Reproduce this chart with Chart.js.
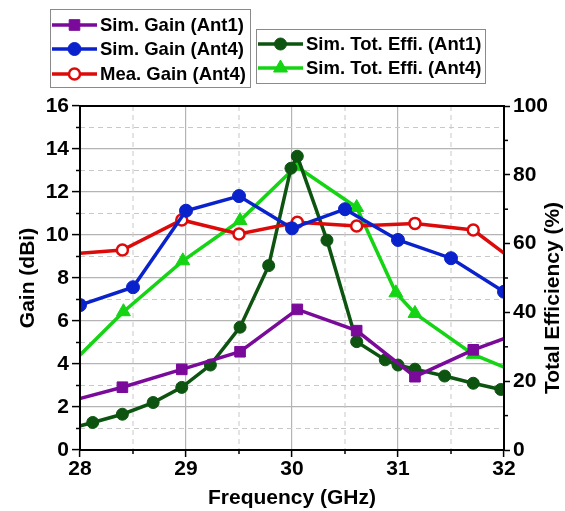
<!DOCTYPE html>
<html>
<head>
<meta charset="utf-8">
<script src="https://cdn.jsdelivr.net/npm/chart.js@4/dist/chart.umd.min.js"></script>
<style>
  body { margin: 0; background: #fff; }
  canvas { display: block; }
</style>
</head>
<body>
<canvas id="myChart" width="565" height="511"></canvas>
<script>
// data (points just outside 28..32 get clipped by the axes)
const gainAnt1Freq = [27.85, 28.4, 28.96, 29.51, 30.05, 30.61, 31.16, 31.71, 32.26];
const gainAnt1 = [2.2, 2.92, 3.75, 4.57, 6.54, 5.55, 3.41, 4.66, 5.65];

const gainAnt4Freq = [28, 28.5, 29, 29.5, 30, 30.5, 31, 31.5, 32];
const gainAnt4 = [6.74, 7.57, 11.13, 11.81, 10.31, 11.2, 9.77, 8.92, 7.36];

const meaGainFreq = [27.85, 28.4, 28.96, 29.5, 30.05, 30.61, 31.16, 31.71, 32.26];
const meaGainAnt4 = [9.09, 9.3, 10.7, 10.05, 10.59, 10.42, 10.54, 10.23, 8.2];

const effAnt1Freq = [27.85, 28.12, 28.4, 28.69, 28.96, 29.23, 29.51, 29.78, 29.99, 30.05, 30.33, 30.61, 30.88, 31.0, 31.16, 31.44, 31.71, 31.97, 32.25];
const effAnt1 = [5.8, 8.0, 10.4, 13.8, 18.2, 24.7, 35.7, 53.6, 81.9, 85.4, 61.0, 31.5, 26.2, 24.7, 23.5, 21.5, 19.4, 17.6, 16.2];

const effAnt4Freq = [27.85, 28.41, 28.97, 29.51, 30.04, 30.61, 30.98, 31.16, 31.71, 32.26];
const effAnt4 = [23, 40.2, 55.0, 66.7, 82.5, 70.5, 45.7, 39.7, 27.8, 20.8];

const freqTicks = [28, 29, 30, 31, 32];
const gainTicks = [0, 2, 4, 6, 8, 10, 12, 14, 16];
const effTicks = [0, 20, 40, 60, 80, 100];

const FONT = "'Liberation Sans', Arial, sans-serif";

function pts(xs, ys) {
  return xs.map((x, i) => ({ x: x, y: ys[i] }));
}

const seriesList = [
  { label: "Sim. Gain (Ant1)", xs: gainAnt1Freq, ys: gainAnt1, color: "#7a0a99", style: "rect", r: 7.5, axis: "y", fill: null },
  { label: "Sim. Gain (Ant4)", xs: gainAnt4Freq, ys: gainAnt4, color: "#0a22cc", style: "circle", r: 6.5, axis: "y", fill: null },
  { label: "Mea. Gain (Ant4)", xs: meaGainFreq, ys: meaGainAnt4, color: "#dd0a0a", style: "circle", r: 5.5, axis: "y", fill: "#ffffff" },
  { label: "Sim. Tot. Effi. (Ant1)", xs: effAnt1Freq, ys: effAnt1, color: "#0d5410", style: "circle", r: 6, axis: "y1", fill: null },
  { label: "Sim. Tot. Effi. (Ant4)", xs: effAnt4Freq, ys: effAnt4, color: "#14d414", style: "triangle", r: 8, axis: "y1", fill: null },
];

const datasets = seriesList.map((s) => ({
  label: s.label,
  data: pts(s.xs, s.ys),
  yAxisID: s.axis,
  borderColor: s.color,
  backgroundColor: s.fill || s.color,
  borderWidth: 3.5,
  pointStyle: s.style,
  pointRadius: s.r,
  pointBorderWidth: s.fill ? 2.5 : 1,
  pointBorderColor: s.color,
  pointBackgroundColor: s.fill || s.color,
  tension: 0,
}));

// dashed minor grid + small minor ticks + black frame + right title
const minorGrid = {
  id: "minorGrid",
  beforeDatasetsDraw(chart) {
    const { ctx, chartArea: a, scales } = chart;
    ctx.save();
    ctx.strokeStyle = "#c8c8c8";
    ctx.lineWidth = 1;
    ctx.setLineDash([5, 4]);
    for (let v = 28.5; v < 32; v += 1) {
      const px = scales.x.getPixelForValue(v);
      ctx.beginPath();
      ctx.moveTo(px, a.top);
      ctx.lineTo(px, a.bottom);
      ctx.stroke();
    }
    for (let v = 1; v < 16; v += 2) {
      const py = scales.y.getPixelForValue(v);
      ctx.beginPath();
      ctx.moveTo(a.left, py);
      ctx.lineTo(a.right, py);
      ctx.stroke();
    }
    ctx.restore();
  },
  afterDraw(chart) {
    const { ctx, chartArea: a, scales } = chart;
    ctx.save();
    ctx.strokeStyle = "#000";
    ctx.lineWidth = 1.5;
    for (let v = 28.5; v < 32; v += 1) {
      const px = scales.x.getPixelForValue(v);
      ctx.beginPath();
      ctx.moveTo(px, a.bottom);
      ctx.lineTo(px, a.bottom + 4);
      ctx.stroke();
    }
    for (let v = 1; v < 16; v += 2) {
      const py = scales.y.getPixelForValue(v);
      ctx.beginPath();
      ctx.moveTo(a.left - 4, py);
      ctx.lineTo(a.left, py);
      ctx.stroke();
    }
    for (let v = 10; v < 100; v += 20) {
      const py = scales.y1.getPixelForValue(v);
      ctx.beginPath();
      ctx.moveTo(a.right, py);
      ctx.lineTo(a.right + 4, py);
      ctx.stroke();
    }
    ctx.lineWidth = 2;
    ctx.strokeRect(a.left, a.top, a.right - a.left, a.bottom - a.top);

    // right axis title reads bottom-to-top in the original
    ctx.translate(553, 298);
    ctx.rotate(-Math.PI / 2);
    ctx.fillStyle = "#000";
    ctx.font = "bold 21px " + FONT;
    ctx.textAlign = "center";
    ctx.textBaseline = "middle";
    ctx.fillText("Total Efficiency (%)", 0, 0);
    ctx.restore();
  },
};

function drawMarker(ctx, s, x, y) {
  ctx.fillStyle = s.fill || s.color;
  ctx.strokeStyle = s.color;
  ctx.lineWidth = s.fill ? 2.5 : 1;
  ctx.setLineDash([]);
  ctx.beginPath();
  if (s.style === "rect") {
    const h = s.r * Math.SQRT1_2;
    ctx.rect(x - h, y - h, 2 * h, 2 * h);
  } else if (s.style === "triangle") {
    const e = (3 * s.r) / Math.sqrt(3);
    const h = (e * Math.sqrt(3)) / 2;
    ctx.moveTo(x, y - (2 * h) / 3);
    ctx.lineTo(x + e / 2, y + h / 3);
    ctx.lineTo(x - e / 2, y + h / 3);
    ctx.closePath();
  } else {
    ctx.arc(x, y, s.r, 0, Math.PI * 2);
  }
  ctx.fill();
  ctx.stroke();
}

// the two legend boxes at the top
const legendBoxes = {
  id: "legendBoxes",
  afterDraw(chart) {
    const ctx = chart.ctx;
    const boxes = [
      { x: 50, y: 9, w: 200, h: 78, items: [0, 1, 2], rowY: [25, 49, 74] },
      { x: 256, y: 29, w: 229, h: 54, items: [3, 4], rowY: [44, 68] },
    ];
    ctx.save();
    boxes.forEach((b) => {
      ctx.fillStyle = "#fff";
      ctx.fillRect(b.x, b.y, b.w, b.h);
      ctx.strokeStyle = "#8a8a8a";
      ctx.lineWidth = 1;
      ctx.strokeRect(b.x + 0.5, b.y + 0.5, b.w, b.h);
      b.items.forEach((idx, k) => {
        const s = seriesList[idx];
        const y = b.rowY[k];
        ctx.strokeStyle = s.color;
        ctx.lineWidth = 3.5;
        ctx.beginPath();
        ctx.moveTo(b.x + 2, y);
        ctx.lineTo(b.x + 47, y);
        ctx.stroke();
        drawMarker(ctx, s, b.x + 24.5, y);
        ctx.fillStyle = "#000";
        ctx.font = "bold 18.5px " + FONT;
        ctx.textBaseline = "middle";
        ctx.fillText(s.label, b.x + 50, y + 1);
      });
    });
    ctx.restore();
  },
};

const tickFont = { family: FONT, size: 21, weight: "bold" };

const ctx = document.getElementById("myChart").getContext("2d");
const myChart = new Chart(ctx, {
  type: "line",
  data: { datasets: datasets },
  plugins: [minorGrid, legendBoxes],
  options: {
    responsive: false,
    animation: false,
    layout: { padding: { top: 106, left: 0, right: 0, bottom: 0 } },
    plugins: { legend: { display: false }, tooltip: { enabled: false } },
    scales: {
      x: {
        type: "linear",
        min: 28,
        max: 32,
        afterBuildTicks: (scale) => {
          scale.ticks = freqTicks.map((v) => ({ value: v }));
        },
        ticks: { font: tickFont, color: "#000", padding: 0, maxRotation: 0 },
        grid: { color: "#b4b4b4", lineWidth: 1.2, tickColor: "#000", tickLength: 7, tickWidth: 1.5 },
        border: { color: "#000", width: 2 },
        title: { display: true, text: "Frequency (GHz)", font: tickFont, color: "#000", padding: 0 },
        afterFit: (scale) => {
          scale.height = 61;
        },
      },
      y: {
        position: "left",
        min: 0,
        max: 16,
        afterBuildTicks: (scale) => {
          scale.ticks = gainTicks.map((v) => ({ value: v }));
        },
        ticks: { font: tickFont, color: "#000", padding: 3 },
        grid: { color: "#b4b4b4", lineWidth: 1.2, tickColor: "#000", tickLength: 8, tickWidth: 1.5 },
        border: { color: "#000", width: 2 },
        title: { display: true, text: "Gain (dBi)", font: tickFont, color: "#000", padding: { top: 16, bottom: 0 } },
        afterFit: (scale) => {
          scale.width = 80;
        },
      },
      y1: {
        position: "right",
        min: 0,
        max: 100,
        afterBuildTicks: (scale) => {
          scale.ticks = effTicks.map((v) => ({ value: v }));
        },
        ticks: { font: tickFont, color: "#000", padding: 3 },
        grid: { drawOnChartArea: false, tickColor: "#000", tickLength: 6, tickWidth: 1.5 },
        border: { color: "#000", width: 2 },
        title: { display: false },
        afterFit: (scale) => {
          scale.width = 61;
        },
      },
    },
  },
});
</script>
</body>
</html>
